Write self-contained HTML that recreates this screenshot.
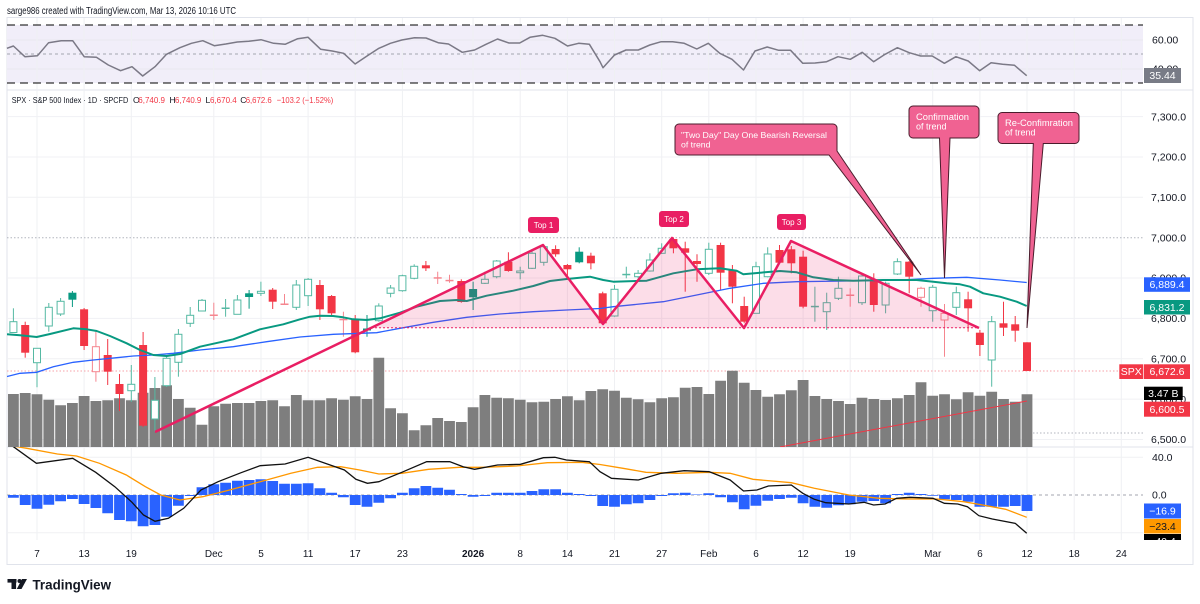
<!DOCTYPE html>
<html><head><meta charset="utf-8"><style>
html,body{margin:0;padding:0;background:#fff;}
svg{display:block;font-family:"Liberation Sans",sans-serif;}
.fg rect{fill:#089981}.fg line{stroke:#089981}
.fr rect{fill:#f23645}.fr line{stroke:#f23645}
.hg rect{fill:#fff;stroke:#55b9a3}.hg line{stroke:#55b9a3}
.hr rect{fill:#fff;stroke:#f5868f}.hr line{stroke:#f5868f}
line{stroke-width:1}
.ax{font-size:10.5px;fill:#131722}
.xl{font-size:10px;fill:#131722;text-anchor:middle}
.lg{font-size:8.6px;fill:#131722}
.lr{font-size:8.6px;fill:#f23645}
</style></head><body>
<svg width="1200" height="604" viewBox="0 0 1200 604" xmlns="http://www.w3.org/2000/svg">
<defs>
<clipPath id="cm"><rect x="7" y="447" width="1136" height="93"/></clipPath>
<clipPath id="ca"><rect x="1100" y="447" width="100" height="93"/></clipPath>
<clipPath id="cp"><rect x="7" y="90" width="1136" height="357"/></clipPath>
</defs>
<rect width="1200" height="604" fill="#fff"/>
<text x="7" y="14" font-size="10" fill="#131722" textLength="229" lengthAdjust="spacingAndGlyphs">sarge986 created with TradingView.com, Mar 13, 2026 10:16 UTC</text>

<!-- frame -->
<rect x="7" y="17.5" width="1186" height="547" fill="none" stroke="#e0e3eb"/>
<line x1="7" y1="90" x2="1193" y2="90" stroke="#e0e3eb"/>
<line x1="7" y1="447" x2="1193" y2="447" stroke="#e0e3eb"/>

<!-- RSI pane -->
<rect x="7" y="25" width="1136" height="58" fill="#f1eef9"/>
<g stroke="#e9e8f0">
<line x1="7" y1="40" x2="1143" y2="40"/><line x1="7" y1="69" x2="1143" y2="69"/>
</g>
<!-- vertical grid -->
<g stroke="#eff0f3">
<line x1="37" y1="18" x2="37" y2="540"/><line x1="84.1" y1="18" x2="84.1" y2="540"/><line x1="131.3" y1="18" x2="131.3" y2="540"/><line x1="213.8" y1="18" x2="213.8" y2="540"/><line x1="261" y1="18" x2="261" y2="540"/><line x1="308.1" y1="18" x2="308.1" y2="540"/><line x1="355.2" y1="18" x2="355.2" y2="540"/><line x1="402.4" y1="18" x2="402.4" y2="540"/><line x1="473.1" y1="18" x2="473.1" y2="540"/><line x1="520.2" y1="18" x2="520.2" y2="540"/><line x1="567.4" y1="18" x2="567.4" y2="540"/><line x1="614.5" y1="18" x2="614.5" y2="540"/><line x1="661.7" y1="18" x2="661.7" y2="540"/><line x1="708.8" y1="18" x2="708.8" y2="540"/><line x1="756" y1="18" x2="756" y2="540"/><line x1="803.1" y1="18" x2="803.1" y2="540"/><line x1="850.2" y1="18" x2="850.2" y2="540"/><line x1="932.7" y1="18" x2="932.7" y2="540"/><line x1="979.9" y1="18" x2="979.9" y2="540"/><line x1="1027" y1="18" x2="1027" y2="540"/><line x1="1074.2" y1="18" x2="1074.2" y2="540"/><line x1="1121.3" y1="18" x2="1121.3" y2="540"/>
</g>
<line x1="7" y1="54" x2="1143" y2="54" stroke="#a3a6af" stroke-dasharray="3 3"/>
<line x1="7" y1="25" x2="1143" y2="25" stroke="#000" stroke-width="2.3" stroke-dasharray="8 5"/>
<line x1="7" y1="83" x2="1143" y2="83" stroke="#000" stroke-width="2.3" stroke-dasharray="8 5"/>
<polyline fill="none" stroke="#7b7986" stroke-width="1.5" stroke-linejoin="round" points="6.9,48.3 13.4,46 24.9,56.7 37.5,55.7 48.6,42.7 61.2,40.7 72.7,40.7 84.2,56.7 96.4,57.3 108.3,65 120.6,70.7 132,66.7 142.7,76 155,66.7 166.5,54.3 179.9,47.7 191.4,43.3 202.8,40.7 214.3,45.7 225.8,44 237.3,42 248.8,41.3 261,39.7 273.6,43.3 285.1,44.3 297.7,38.7 308.1,37.3 320.7,49.3 332.2,51 343.7,53.3 355.1,64 367.4,55.7 378.9,48.3 390.4,43.3 401.8,40 414.5,37.7 426,38 438.2,42.7 448.5,44 462.3,52.3 474.6,50 486,44.3 497.5,39 509,43 519.7,43 530,37.3 542.7,35.3 554.9,38.3 567.5,46 578.6,43.3 589.4,44.3 600,61.7 603,67.7 614.5,55 626,50 638.3,50 649.8,45 661.2,41.7 672.7,41.7 684.2,43.3 696.8,49 708.3,43.3 719.8,53.3 732,59.3 743.5,70 755,51 767.2,47 778.7,50.3 790.6,50.3 802.8,63.3 815.1,63 826.6,61.7 838,56.7 850.3,59.3 862.2,52.3 873.6,61.7 885.1,54.3 897.4,47.7 909.2,52.7 920.7,56 932.2,56 944.4,63.3 955.9,56.7 968.2,61 979.6,70.7 991.1,62.7 1002.6,64.3 1014.5,65.3 1026.7,75.7"/>
<text class="ax" x="1152" y="43.5">60.00</text>
<text class="ax" x="1152" y="72.5">40.00</text>
<rect x="1144" y="68" width="37" height="15" fill="#787b86"/>
<text x="1162.5" y="79" font-size="10.5" fill="#fff" text-anchor="middle">35.44</text>

<!-- main pane grid -->
<g stroke="#f0f1f4">
<line x1="7" y1="116.6" x2="1143" y2="116.6"/><line x1="7" y1="157" x2="1143" y2="157"/><line x1="7" y1="197.3" x2="1143" y2="197.3"/><line x1="7" y1="278" x2="1143" y2="278"/><line x1="7" y1="318.4" x2="1143" y2="318.4"/><line x1="7" y1="358.8" x2="1143" y2="358.8"/><line x1="7" y1="399.1" x2="1143" y2="399.1"/><line x1="7" y1="439.5" x2="1143" y2="439.5"/>
</g>
<line x1="7" y1="237.7" x2="1143" y2="237.7" stroke="#b2b5be" stroke-dasharray="1.5 2"/>
<line x1="1033" y1="433" x2="1143" y2="433" stroke="#b2b5be" stroke-dasharray="1.5 2"/>
<line x1="7" y1="371" x2="1143" y2="371" stroke="#f7a1a8" stroke-dasharray="1.5 2"/>

<text class="lg" x="11.7" y="103" textLength="116.6" lengthAdjust="spacingAndGlyphs">SPX · S&amp;P 500 Index · 1D · SPCFD</text>
<text class="lg" x="133" y="103">O</text><text class="lr" x="138.3" y="103" textLength="26.7" lengthAdjust="spacingAndGlyphs">6,740.9</text>
<text class="lg" x="169.5" y="103">H</text><text class="lr" x="175" y="103" textLength="26.3" lengthAdjust="spacingAndGlyphs">6,740.9</text>
<text class="lg" x="205.5" y="103">L</text><text class="lr" x="210" y="103" textLength="26.7" lengthAdjust="spacingAndGlyphs">6,670.4</text>
<text class="lg" x="240.3" y="103">C</text><text class="lr" x="245.7" y="103" textLength="26" lengthAdjust="spacingAndGlyphs">6,672.6</text>
<text class="lr" x="276.7" y="103" textLength="56.6" lengthAdjust="spacingAndGlyphs">−103.2 (−1.52%)</text>

<g clip-path="url(#cp)">
<!-- volume -->
<path fill="#7e7e7e" d="M8 394h10.8V447h-10.8zM19.8 393h10.8V447h-10.8zM31.6 394.3h10.8V447h-10.8zM43.4 399.7h10.8V447h-10.8zM55.2 405.3h10.8V447h-10.8zM67 403h10.8V447h-10.8zM78.7 396h10.8V447h-10.8zM90.5 401h10.8V447h-10.8zM102.3 400.3h10.8V447h-10.8zM114.1 398.3h10.8V447h-10.8zM125.9 400.3h10.8V447h-10.8zM137.7 392.7h10.8V447h-10.8zM149.5 388h10.8V447h-10.8zM161.2 385.3h10.8V447h-10.8zM173 399h10.8V447h-10.8zM184.8 407.7h10.8V447h-10.8zM196.6 424.7h10.8V447h-10.8zM208.4 406.3h10.8V447h-10.8zM220.2 403.7h10.8V447h-10.8zM232 403h10.8V447h-10.8zM243.7 403h10.8V447h-10.8zM255.5 401h10.8V447h-10.8zM267.3 400.3h10.8V447h-10.8zM279.1 406.3h10.8V447h-10.8zM290.9 395h10.8V447h-10.8zM302.7 400.3h10.8V447h-10.8zM314.5 400.3h10.8V447h-10.8zM326.2 398.3h10.8V447h-10.8zM338 399.7h10.8V447h-10.8zM349.8 396.3h10.8V447h-10.8zM361.6 399h10.8V447h-10.8zM373.4 357.7h10.8V447h-10.8zM385.2 408.3h10.8V447h-10.8zM397 413.3h10.8V447h-10.8zM408.8 430.3h10.8V447h-10.8zM420.5 425.3h10.8V447h-10.8zM432.3 418h10.8V447h-10.8zM444.1 421h10.8V447h-10.8zM455.9 422h10.8V447h-10.8zM467.7 407.3h10.8V447h-10.8zM479.5 395h10.8V447h-10.8zM491.3 397.7h10.8V447h-10.8zM503 398.3h10.8V447h-10.8zM514.8 399.7h10.8V447h-10.8zM526.6 402.3h10.8V447h-10.8zM538.4 401.7h10.8V447h-10.8zM550.2 399h10.8V447h-10.8zM562 396.3h10.8V447h-10.8zM573.8 400.3h10.8V447h-10.8zM585.5 391h10.8V447h-10.8zM597.3 389.3h10.8V447h-10.8zM609.1 390.7h10.8V447h-10.8zM620.9 397.7h10.8V447h-10.8zM632.7 399.3h10.8V447h-10.8zM644.5 402.3h10.8V447h-10.8zM656.3 398.3h10.8V447h-10.8zM668 397.3h10.8V447h-10.8zM679.8 387.7h10.8V447h-10.8zM691.6 387h10.8V447h-10.8zM703.4 394h10.8V447h-10.8zM715.2 380.7h10.8V447h-10.8zM727 370.7h10.8V447h-10.8zM738.8 382.7h10.8V447h-10.8zM750.5 390h10.8V447h-10.8zM762.3 396.7h10.8V447h-10.8zM774.1 394.3h10.8V447h-10.8zM785.9 390.3h10.8V447h-10.8zM797.7 380h10.8V447h-10.8zM809.5 396h10.8V447h-10.8zM821.3 399h10.8V447h-10.8zM833.1 401h10.8V447h-10.8zM844.8 404h10.8V447h-10.8zM856.6 397.7h10.8V447h-10.8zM868.4 399h10.8V447h-10.8zM880.2 400h10.8V447h-10.8zM892 398.3h10.8V447h-10.8zM903.8 395h10.8V447h-10.8zM915.6 382.3h10.8V447h-10.8zM927.3 395.7h10.8V447h-10.8zM939.1 394.3h10.8V447h-10.8zM950.9 399.3h10.8V447h-10.8zM962.7 392.3h10.8V447h-10.8zM974.5 395.7h10.8V447h-10.8zM986.3 391.7h10.8V447h-10.8zM998.1 399h10.8V447h-10.8zM1009.8 401.7h10.8V447h-10.8zM1021.6 394.3h10.8V447h-10.8z"/>
<line x1="780" y1="447" x2="1027" y2="401" stroke="#f23645" stroke-width="1.3"/>

<!-- candles -->
<g class="hg"><line x1="13.4" y1="308.3" x2="13.4" y2="332.5"/><rect x="9.9" y="321.7" width="7" height="10.8"/></g>
<g class="fr"><line x1="25.2" y1="321.7" x2="25.2" y2="357.7"/><rect x="21.2" y="325" width="8" height="27.7"/></g>
<g class="hg"><line x1="37" y1="348.3" x2="37" y2="387.3"/><rect x="33.5" y="348.3" width="7" height="14.4"/></g>
<g class="hg"><line x1="48.8" y1="303" x2="48.8" y2="331.7"/><rect x="45.3" y="307.3" width="7" height="18.7"/></g>
<g class="hg"><line x1="60.6" y1="298" x2="60.6" y2="316"/><rect x="57.1" y="301.3" width="7" height="12.7"/></g>
<g class="fg"><line x1="72.4" y1="291" x2="72.4" y2="307"/><rect x="68.4" y="292.7" width="8" height="7"/></g>
<g class="fr"><line x1="84.1" y1="308" x2="84.1" y2="350"/><rect x="80.1" y="309.3" width="8" height="36.7"/></g>
<g class="hr"><line x1="95.9" y1="331.7" x2="95.9" y2="381.7"/><rect x="92.4" y="346.7" width="7" height="25"/></g>
<g class="fr"><line x1="107.7" y1="339" x2="107.7" y2="385"/><rect x="103.7" y="355" width="8" height="16.7"/></g>
<g class="fr"><line x1="119.5" y1="374" x2="119.5" y2="411"/><rect x="115.5" y="384" width="8" height="10"/></g>
<g class="hg"><line x1="131.3" y1="365" x2="131.3" y2="402"/><rect x="127.8" y="384.3" width="7" height="6.4"/></g>
<g class="fr"><line x1="143.1" y1="332" x2="143.1" y2="427"/><rect x="139.1" y="345" width="8" height="80.7"/></g>
<g class="hg"><line x1="154.9" y1="377" x2="154.9" y2="432"/><rect x="151.4" y="400.3" width="7" height="18.7"/></g>
<g class="hg"><line x1="166.6" y1="356" x2="166.6" y2="387"/><rect x="163.1" y="358.3" width="7" height="27.4"/></g>
<g class="hg"><line x1="178.4" y1="329" x2="178.4" y2="376.7"/><rect x="174.9" y="334.3" width="7" height="28"/></g>
<g class="hg"><line x1="190.2" y1="307" x2="190.2" y2="327"/><rect x="186.7" y="315.3" width="7" height="8"/></g>
<g class="hg"><line x1="202" y1="299" x2="202" y2="311"/><rect x="198.5" y="300.3" width="7" height="10.7"/></g>
<g class="hr"><line x1="213.8" y1="302.7" x2="213.8" y2="320"/><rect x="210.3" y="315" width="7" height="0.5"/></g>
<g class="hg"><line x1="225.6" y1="299" x2="225.6" y2="316.7"/><rect x="222.1" y="308" width="7" height="0.5"/></g>
<g class="hg"><line x1="237.4" y1="295" x2="237.4" y2="314.3"/><rect x="233.9" y="300" width="7" height="14.3"/></g>
<g class="fg"><line x1="249.1" y1="290" x2="249.1" y2="308.7"/><rect x="245.1" y="293.3" width="8" height="3.7"/></g>
<g class="hg"><line x1="260.9" y1="281.7" x2="260.9" y2="296"/><rect x="257.4" y="291.3" width="7" height="2"/></g>
<g class="fr"><line x1="272.7" y1="288" x2="272.7" y2="309"/><rect x="268.7" y="289.7" width="8" height="12"/></g>
<g class="hr"><line x1="284.5" y1="294" x2="284.5" y2="305"/><rect x="281" y="304" width="7" height="0.5"/></g>
<g class="hg"><line x1="296.3" y1="280" x2="296.3" y2="310"/><rect x="292.8" y="285" width="7" height="22.3"/></g>
<g class="hg"><line x1="308.1" y1="278" x2="308.1" y2="306"/><rect x="304.6" y="279.3" width="7" height="16.4"/></g>
<g class="fr"><line x1="319.9" y1="280" x2="319.9" y2="320"/><rect x="315.9" y="285" width="8" height="24.3"/></g>
<g class="fr"><line x1="331.6" y1="295" x2="331.6" y2="315"/><rect x="327.6" y="296" width="8" height="17.3"/></g>
<g class="hr"><line x1="343.4" y1="311.7" x2="343.4" y2="336.7"/><rect x="339.9" y="319.3" width="7" height="0.5"/></g>
<g class="fr"><line x1="355.2" y1="315" x2="355.2" y2="353.3"/><rect x="351.2" y="319" width="8" height="33.3"/></g>
<g class="fg"><line x1="367" y1="315" x2="367" y2="336.7"/><rect x="363" y="328.5" width="8" height="2"/></g>
<g class="hg"><line x1="378.8" y1="303.3" x2="378.8" y2="321.7"/><rect x="375.3" y="306" width="7" height="14.7"/></g>
<g class="hg"><line x1="390.6" y1="285" x2="390.6" y2="297.3"/><rect x="387.1" y="288" width="7" height="5.3"/></g>
<g class="hg"><line x1="402.4" y1="274.7" x2="402.4" y2="291.7"/><rect x="398.9" y="275.7" width="7" height="15"/></g>
<g class="hg"><line x1="414.2" y1="264.3" x2="414.2" y2="279.3"/><rect x="410.7" y="266.3" width="7" height="12"/></g>
<g class="fr"><line x1="425.9" y1="261" x2="425.9" y2="271"/><rect x="421.9" y="265.3" width="8" height="3"/></g>
<g class="hr"><line x1="437.7" y1="271.7" x2="437.7" y2="284"/><rect x="434.2" y="277.7" width="7" height="0.5"/></g>
<g class="hr"><line x1="449.5" y1="274.7" x2="449.5" y2="282.7"/><rect x="446" y="280.3" width="7" height="0.5"/></g>
<g class="fr"><line x1="461.3" y1="279.3" x2="461.3" y2="302.7"/><rect x="457.3" y="281" width="8" height="21"/></g>
<g class="fg"><line x1="473.1" y1="281.7" x2="473.1" y2="310"/><rect x="469.1" y="289" width="8" height="8.3"/></g>
<g class="hg"><line x1="484.9" y1="271.7" x2="484.9" y2="284"/><rect x="481.4" y="279.3" width="7" height="4"/></g>
<g class="hg"><line x1="496.7" y1="260" x2="496.7" y2="278.3"/><rect x="493.2" y="261" width="7" height="15.7"/></g>
<g class="fr"><line x1="508.4" y1="252.3" x2="508.4" y2="271.7"/><rect x="504.4" y="261.7" width="8" height="9.3"/></g>
<g class="hg"><line x1="520.2" y1="266.7" x2="520.2" y2="279.3"/><rect x="516.7" y="271" width="7" height="1.7"/></g>
<g class="hg"><line x1="532" y1="249" x2="532" y2="269"/><rect x="528.5" y="253.3" width="7" height="15"/></g>
<g class="hg"><line x1="543.8" y1="245" x2="543.8" y2="265.7"/><rect x="540.3" y="246.7" width="7" height="15.6"/></g>
<g class="fr"><line x1="555.6" y1="245.3" x2="555.6" y2="256.7"/><rect x="551.6" y="249" width="8" height="5.3"/></g>
<g class="fr"><line x1="567.4" y1="264" x2="567.4" y2="277"/><rect x="563.4" y="265" width="8" height="4.3"/></g>
<g class="fg"><line x1="579.2" y1="247.3" x2="579.2" y2="263.3"/><rect x="575.2" y="251.7" width="8" height="10.6"/></g>
<g class="fr"><line x1="590.9" y1="252.7" x2="590.9" y2="269.3"/><rect x="586.9" y="255.7" width="8" height="7.6"/></g>
<g class="fr"><line x1="602.7" y1="291.7" x2="602.7" y2="323.3"/><rect x="598.7" y="293.3" width="8" height="30"/></g>
<g class="hg"><line x1="614.5" y1="285" x2="614.5" y2="316.7"/><rect x="611" y="289.3" width="7" height="26.7"/></g>
<g class="hg"><line x1="626.3" y1="266.7" x2="626.3" y2="278.3"/><rect x="622.8" y="274.3" width="7" height="0.5"/></g>
<g class="hg"><line x1="638.1" y1="270" x2="638.1" y2="278.3"/><rect x="634.6" y="273.3" width="7" height="3.4"/></g>
<g class="hg"><line x1="649.9" y1="253.3" x2="649.9" y2="271.7"/><rect x="646.4" y="260" width="7" height="11"/></g>
<g class="hg"><line x1="661.7" y1="243.3" x2="661.7" y2="254"/><rect x="658.2" y="248.3" width="7" height="5"/></g>
<g class="fr"><line x1="673.4" y1="237.3" x2="673.4" y2="253.3"/><rect x="669.4" y="239" width="8" height="9.3"/></g>
<g class="fr"><line x1="685.2" y1="241.7" x2="685.2" y2="291.7"/><rect x="681.2" y="248.3" width="8" height="4.4"/></g>
<g class="fr"><line x1="697" y1="254.3" x2="697" y2="281.7"/><rect x="693" y="261" width="8" height="3"/></g>
<g class="hg"><line x1="708.8" y1="242.7" x2="708.8" y2="275"/><rect x="705.3" y="249.3" width="7" height="24"/></g>
<g class="fr"><line x1="720.6" y1="242.7" x2="720.6" y2="290"/><rect x="716.6" y="245" width="8" height="27.7"/></g>
<g class="fr"><line x1="732.4" y1="265" x2="732.4" y2="303.3"/><rect x="728.4" y="270" width="8" height="16.7"/></g>
<g class="fr"><line x1="744.2" y1="296.7" x2="744.2" y2="323.3"/><rect x="740.2" y="306" width="8" height="15.7"/></g>
<g class="hg"><line x1="756" y1="261.7" x2="756" y2="313.3"/><rect x="752.5" y="266.7" width="7" height="46.6"/></g>
<g class="hg"><line x1="767.7" y1="247.3" x2="767.7" y2="277.3"/><rect x="764.2" y="254" width="7" height="22.7"/></g>
<g class="fr"><line x1="779.5" y1="245" x2="779.5" y2="263.3"/><rect x="775.5" y="250" width="8" height="12.7"/></g>
<g class="fr"><line x1="791.3" y1="246" x2="791.3" y2="273.3"/><rect x="787.3" y="249.3" width="8" height="14"/></g>
<g class="fr"><line x1="803.1" y1="250.7" x2="803.1" y2="308.3"/><rect x="799.1" y="256.7" width="8" height="50"/></g>
<g class="hg"><line x1="814.9" y1="286.7" x2="814.9" y2="321.7"/><rect x="811.4" y="306.3" width="7" height="0.5"/></g>
<g class="hg"><line x1="826.7" y1="292.7" x2="826.7" y2="330"/><rect x="823.2" y="302.7" width="7" height="9"/></g>
<g class="hg"><line x1="838.4" y1="276.7" x2="838.4" y2="300"/><rect x="834.9" y="288.3" width="7" height="10"/></g>
<g class="hr"><line x1="850.2" y1="288.3" x2="850.2" y2="306.7"/><rect x="846.7" y="295" width="7" height="0.5"/></g>
<g class="hg"><line x1="862" y1="273.3" x2="862" y2="305"/><rect x="858.5" y="276" width="7" height="26.7"/></g>
<g class="fr"><line x1="873.8" y1="273.3" x2="873.8" y2="311.7"/><rect x="869.8" y="279.3" width="8" height="25.7"/></g>
<g class="hg"><line x1="885.6" y1="281.7" x2="885.6" y2="313.3"/><rect x="882.1" y="283.3" width="7" height="21.7"/></g>
<g class="hg"><line x1="897.4" y1="258.3" x2="897.4" y2="275"/><rect x="893.9" y="261.7" width="7" height="12.3"/></g>
<g class="fr"><line x1="909.2" y1="261" x2="909.2" y2="293.3"/><rect x="905.2" y="261.7" width="8" height="15"/></g>
<g class="hr"><line x1="921" y1="286.7" x2="921" y2="306.7"/><rect x="917.5" y="288.3" width="7" height="9"/></g>
<g class="hg"><line x1="932.7" y1="285" x2="932.7" y2="321.7"/><rect x="929.2" y="287.3" width="7" height="23.4"/></g>
<g class="hr"><line x1="944.5" y1="304" x2="944.5" y2="356.7"/><rect x="941" y="313.3" width="7" height="6.7"/></g>
<g class="hg"><line x1="956.3" y1="286.7" x2="956.3" y2="315"/><rect x="952.8" y="292.7" width="7" height="14.6"/></g>
<g class="fr"><line x1="968.1" y1="291.7" x2="968.1" y2="331.7"/><rect x="964.1" y="299.3" width="8" height="9"/></g>
<g class="fr"><line x1="979.9" y1="330" x2="979.9" y2="356"/><rect x="975.9" y="332.7" width="8" height="12.3"/></g>
<g class="hg"><line x1="991.7" y1="316" x2="991.7" y2="386.7"/><rect x="988.2" y="321.7" width="7" height="38.3"/></g>
<g class="fr"><line x1="1003.5" y1="301.7" x2="1003.5" y2="336"/><rect x="999.5" y="323.3" width="8" height="4.4"/></g>
<g class="fr"><line x1="1015.2" y1="316" x2="1015.2" y2="341.7"/><rect x="1011.2" y="324.3" width="8" height="6.4"/></g>
<g class="fr"><line x1="1027" y1="342.3" x2="1027" y2="371"/><rect x="1023" y="342.3" width="8" height="28.7"/></g>

<!-- moving averages -->
<polyline fill="none" stroke="#2962ff" stroke-width="1.3" points="7,376.5 20,373.3 36.7,372.3 53.3,366.7 73.3,362.3 93.3,360 116.7,357.7 133.3,356 153.3,355 173.3,353.3 200,350 233.3,346.7 266.7,341.7 300,337 333.3,334.3 376.7,332.7 400,328.3 433.3,322.3 466.7,317.3 500,314 533.3,311.7 566.7,310 600,308.5 613.3,306.7 663.3,301.7 696.7,295 730,288.3 763.3,283.3 796.7,281.7 846.7,281 900,280 933.3,278.3 966.7,277.3 1000,280 1026.7,282.5"/>
<polyline fill="none" stroke="#089981" stroke-width="2" stroke-linejoin="round" points="7,334.3 20,335.3 36.7,337 50,334 73.3,328.3 86.7,329.3 96.7,331 110,336 126.7,343.3 140,350 153.3,355 166.7,356 180,354 200,346.7 233.3,339.3 260,329.3 283.3,324.3 300,319.3 310,316.7 320,315.7 333,316 343,317.3 353,319.3 366.7,320 380,318.3 400,312.7 416.7,306.7 440,301 456.7,300 466.7,301 486.7,295.7 513.3,290.7 533.3,286 550,281 566.7,279 590,276.7 603.3,280 613.3,281.7 646.7,280.7 673.3,273.3 696.7,269.3 720,268.3 736.7,270.7 743.3,274.3 760,272.7 780,271 796.7,272.3 813.3,277.3 833.3,280 853.3,280.7 883.3,280 916.7,280 933.3,281.7 946.7,283.3 960,284.3 970,286.7 983.3,293.3 1000,296.7 1016.7,301.7 1026.7,306"/>

<!-- pattern -->
<polygon fill="rgba(233,30,99,0.15)" points="371.4,327.7 543,245 603,324 672,238 744,328 791,241 979,328"/>
<line x1="371" y1="327.7" x2="979" y2="327.7" stroke="#e91e63" stroke-width="1.5" stroke-dasharray="2 2"/>
<polyline fill="none" stroke="#e91e63" stroke-width="2.5" stroke-linejoin="round" points="155,432 543,245 603,324 672,238 744,328 791,241 979,328"/>
</g>

<!-- top labels -->
<rect x="528" y="217" width="31" height="16" rx="3" fill="#e91e63"/><text x="543.5" y="228" font-size="8" fill="#fff" text-anchor="middle">Top 1</text>
<rect x="659" y="211" width="30" height="16" rx="3" fill="#e91e63"/><text x="674" y="222" font-size="8" fill="#fff" text-anchor="middle">Top 2</text>
<rect x="777" y="214" width="29" height="16" rx="3" fill="#e91e63"/><text x="791.5" y="225" font-size="8" fill="#fff" text-anchor="middle">Top 3</text>

<!-- callouts -->
<path d="M679,124 H833 A4,4 0 0 1 837,128 V151 L921,275 L829,155 H679 A4,4 0 0 1 675,151 V128 A4,4 0 0 1 679,124 Z" fill="#f06292" stroke="#4a1c2c" stroke-width="1"/>
<text x="681" y="138" font-size="8.7" fill="#fff" textLength="146" lengthAdjust="spacingAndGlyphs">"Two Day" Day One Bearish Reversal</text>
<text x="681" y="147.5" font-size="8.7" fill="#fff">of trend</text>
<path d="M913,106 H975 A4,4 0 0 1 979,110 V134 A4,4 0 0 1 975,138 H950 L944.5,278 L939.5,138 H913 A4,4 0 0 1 909,134 V110 A4,4 0 0 1 913,106 Z" fill="#f06292" stroke="#4a1c2c" stroke-width="1"/>
<text x="916" y="120" font-size="9" fill="#fff" textLength="53" lengthAdjust="spacingAndGlyphs">Confirmation</text>
<text x="916" y="129.5" font-size="9" fill="#fff">of trend</text>
<path d="M1002,112.5 H1075 A4,4 0 0 1 1079,116.5 V139.5 A4,4 0 0 1 1075,143.5 H1043.3 L1027,328 L1033.3,143.5 H1002 A4,4 0 0 1 998,139.5 V116.5 A4,4 0 0 1 1002,112.5 Z" fill="#f06292" stroke="#4a1c2c" stroke-width="1"/>
<text x="1005" y="126" font-size="9" fill="#fff" textLength="68" lengthAdjust="spacingAndGlyphs">Re-Confimration</text>
<text x="1005" y="135.5" font-size="9" fill="#fff">of trend</text>

<!-- price axis -->
<text class="ax" x="1151" y="120.3">7,300.0</text>
<text class="ax" x="1151" y="160.7">7,200.0</text>
<text class="ax" x="1151" y="201">7,100.0</text>
<text class="ax" x="1151" y="241.4">7,000.0</text>
<text class="ax" x="1151" y="281.7">6,900.0</text>
<text class="ax" x="1151" y="322.1">6,800.0</text>
<text class="ax" x="1151" y="362.5">6,700.0</text>
<text class="ax" x="1151" y="402.8">6,600.0</text>
<text class="ax" x="1151" y="443.2">6,500.0</text>
<rect x="1144" y="277.3" width="46" height="14.5" fill="#2962ff"/><text x="1167" y="288.2" font-size="10.5" fill="#fff" text-anchor="middle">6,889.4</text>
<rect x="1144" y="300" width="46" height="14.5" fill="#089981"/><text x="1167" y="310.9" font-size="10.5" fill="#fff" text-anchor="middle">6,831.2</text>
<rect x="1119.3" y="364.3" width="24" height="14.7" fill="#f23645"/><text x="1131.3" y="375.2" font-size="10.5" fill="#fff" text-anchor="middle">SPX</text>
<rect x="1144" y="364.3" width="46" height="14.7" fill="#f23645"/><text x="1167" y="375.2" font-size="10.5" fill="#fff" text-anchor="middle">6,672.6</text>
<rect x="1144" y="386.7" width="38.7" height="13.3" fill="#000"/><text x="1163.3" y="397.2" font-size="10.5" fill="#fff" text-anchor="middle">3.47 B</text>
<rect x="1144" y="401.7" width="46" height="15" fill="#f23645"/><text x="1167" y="412.8" font-size="10.5" fill="#fff" text-anchor="middle">6,600.5</text>

<!-- MACD pane -->
<g stroke="#f0f1f4"><line x1="7" y1="457.3" x2="1143" y2="457.3"/><line x1="7" y1="532.7" x2="1143" y2="532.7"/></g>
<line x1="7" y1="495" x2="1143" y2="495" stroke="#a3a6af" stroke-dasharray="3 3"/>
<g clip-path="url(#cm)">
<path fill="#2962ff" d="M8 495h10.8V497.7h-10.8zM19.8 495h10.8V505h-10.8zM31.6 495h10.8V508.7h-10.8zM43.4 495h10.8V504.7h-10.8zM55.2 495h10.8V501.3h-10.8zM67 495h10.8V499h-10.8zM78.7 495h10.8V504h-10.8zM90.5 495h10.8V508h-10.8zM102.3 495h10.8V513.3h-10.8zM114.1 495h10.8V520h-10.8zM125.9 495h10.8V521.3h-10.8zM137.7 495h10.8V526.3h-10.8zM149.5 495h10.8V525h-10.8zM161.2 495h10.8V516.7h-10.8zM173 495h10.8V505.7h-10.8zM184.8 495h10.8V496h-10.8zM196.6 495h10.8V487.3h-10.8zM208.4 495h10.8V484.3h-10.8zM220.2 495h10.8V482.7h-10.8zM232 495h10.8V480.7h-10.8zM243.7 495h10.8V480h-10.8zM255.5 495h10.8V479.3h-10.8zM267.3 495h10.8V481h-10.8zM279.1 495h10.8V483.7h-10.8zM290.9 495h10.8V483.7h-10.8zM302.7 495h10.8V483.3h-10.8zM314.5 495h10.8V488.3h-10.8zM326.2 495h10.8V492.7h-10.8zM338 495h10.8V497.3h-10.8zM349.8 495h10.8V505h-10.8zM361.6 495h10.8V506.7h-10.8zM373.4 495h10.8V502.7h-10.8zM385.2 495h10.8V498.3h-10.8zM397 495h10.8V492.7h-10.8zM408.8 495h10.8V488.3h-10.8zM420.5 495h10.8V486h-10.8zM432.3 495h10.8V487.7h-10.8zM444.1 495h10.8V489.7h-10.8zM455.9 495h10.8V494h-10.8zM467.7 495h10.8V496.7h-10.8zM479.5 495h10.8V496h-10.8zM491.3 495h10.8V492.7h-10.8zM503 495h10.8V492.7h-10.8zM514.8 495h10.8V492.7h-10.8zM526.6 495h10.8V491h-10.8zM538.4 495h10.8V489.3h-10.8zM550.2 495h10.8V489.3h-10.8zM562 495h10.8V492.7h-10.8zM573.8 495h10.8V494h-10.8zM585.5 495h10.8V496h-10.8zM597.3 495h10.8V506h-10.8zM609.1 495h10.8V506.7h-10.8zM620.9 495h10.8V504.3h-10.8zM632.7 495h10.8V503.3h-10.8zM644.5 495h10.8V500h-10.8zM656.3 495h10.8V496h-10.8zM668 495h10.8V493.3h-10.8zM679.8 495h10.8V492.7h-10.8zM691.6 495h10.8V494.5h-10.8zM703.4 495h10.8V493.3h-10.8zM715.2 495h10.8V497.3h-10.8zM727 495h10.8V502.3h-10.8zM738.8 495h10.8V509.3h-10.8zM750.5 495h10.8V505.7h-10.8zM762.3 495h10.8V500.7h-10.8zM774.1 495h10.8V499h-10.8zM785.9 495h10.8V497.7h-10.8zM797.7 495h10.8V503.3h-10.8zM809.5 495h10.8V506.7h-10.8zM821.3 495h10.8V507.7h-10.8zM833.1 495h10.8V505.3h-10.8zM844.8 495h10.8V504.3h-10.8zM856.6 495h10.8V501.7h-10.8zM868.4 495h10.8V501h-10.8zM880.2 495h10.8V503.3h-10.8zM892 495h10.8V494h-10.8zM903.8 495h10.8V492.7h-10.8zM915.6 495h10.8V494h-10.8zM927.3 495h10.8V495.8h-10.8zM939.1 495h10.8V499.3h-10.8zM950.9 495h10.8V500h-10.8zM962.7 495h10.8V501.7h-10.8zM974.5 495h10.8V506.7h-10.8zM986.3 495h10.8V506.7h-10.8zM998.1 495h10.8V506.7h-10.8zM1009.8 495h10.8V506h-10.8zM1021.6 495h10.8V511h-10.8z"/>
<polyline fill="none" stroke="#ff9800" stroke-width="1.3" points="7,445 26.8,448.3 57.4,454 76.5,456 99.5,463.3 126.3,475 145.4,486.7 160.7,495 179.9,500 202.8,496.7 229.6,490 260.2,481.7 290.9,473.3 317.6,467.3 340.6,466.7 359.7,470 378.9,474 401.8,473.3 428.6,469.3 459.2,467.3 482.2,467.3 516.6,466 547.3,462.7 581.7,462.3 600,464.5 623,468.3 645.9,472.3 676.5,473.3 709.1,472.3 730.1,473.3 753.1,479.3 791.3,482.7 814.3,488.3 848.8,495 879.4,498.3 906.2,499 936.8,499 963.6,501.7 982.7,505 1005.7,509.3 1026.7,517.3"/>
<polyline fill="none" stroke="#111" stroke-width="1.3" points="7,443 13.4,446.7 36.4,463.3 72.7,458.3 95.7,472.3 114.8,486.7 132,502.3 143.5,515 155,521.3 168.4,518.3 183.7,508.3 200.9,490 218.1,481.7 241.1,472.7 260.2,465.7 285.1,464 308.1,457.3 333,466 344.4,470 355.9,479.3 367.4,483.3 378.9,481.7 401.8,472.3 426.7,461.7 449.7,461.7 463.1,466.7 474.6,469.3 497.5,465 520.5,464.3 543.4,457.7 554.9,457.3 566.4,460 589.4,461.7 600,471.7 611.5,478.3 638.3,480 661.2,473.3 684.2,470.7 709.1,471.7 730.1,480 743.5,491 756.9,490 768.4,486 791.3,485 802.8,493.3 814.3,499.3 825.8,502.7 848.8,504 864.1,502.3 873.6,505 885.1,504 896.6,498.3 910,497.3 933,498.3 944.4,503.3 957.8,504 967.4,506.7 978.9,515.7 992.3,519 1015.2,523.3 1026.7,533.3"/>
</g>
<text class="ax" x="1152" y="460.8">40.0</text>
<text class="ax" x="1152" y="498.7">0.0</text>
<g clip-path="url(#ca)">
<rect x="1144" y="503.5" width="37" height="15" fill="#2962ff"/><text x="1162.5" y="514.6" font-size="10.5" fill="#fff" text-anchor="middle">−16.9</text>
<rect x="1144" y="519" width="37" height="14.5" fill="#ff9800"/><text x="1162.5" y="530" font-size="10.5" fill="#131722" text-anchor="middle">−23.4</text>
<rect x="1144" y="534" width="37" height="15" fill="#000"/><text x="1162.5" y="545" font-size="10.5" fill="#fff" text-anchor="middle">−40.4</text>
</g>

<!-- x axis -->
<text class="xl" x="37" y="557">7</text>
<text class="xl" x="84.1" y="557">13</text>
<text class="xl" x="131.3" y="557">19</text>
<text class="xl" x="213.8" y="557">Dec</text>
<text class="xl" x="261" y="557">5</text>
<text class="xl" x="308.1" y="557">11</text>
<text class="xl" x="355.2" y="557">17</text>
<text class="xl" x="402.4" y="557">23</text>
<text class="xl" x="473.1" y="557" font-weight="bold">2026</text>
<text class="xl" x="520.2" y="557">8</text>
<text class="xl" x="567.4" y="557">14</text>
<text class="xl" x="614.5" y="557">21</text>
<text class="xl" x="661.7" y="557">27</text>
<text class="xl" x="708.8" y="557">Feb</text>
<text class="xl" x="756" y="557">6</text>
<text class="xl" x="803.1" y="557">12</text>
<text class="xl" x="850.2" y="557">19</text>
<text class="xl" x="932.7" y="557">Mar</text>
<text class="xl" x="979.9" y="557">6</text>
<text class="xl" x="1027" y="557">12</text>
<text class="xl" x="1074.2" y="557">18</text>
<text class="xl" x="1121.3" y="557">24</text>

<!-- logo -->
<g fill="#131722">
<rect x="7.5" y="579" width="9" height="3.6"/>
<rect x="11.5" y="579" width="4.6" height="10"/>
<circle cx="19.5" cy="581" r="2"/>
<polygon points="22,579 27,579 21.5,589 16.8,589"/>
</g>
<text x="32.5" y="589.5" font-size="14" font-weight="bold" fill="#131722" textLength="78.5" lengthAdjust="spacingAndGlyphs">TradingView</text>
</svg>
</body></html>
